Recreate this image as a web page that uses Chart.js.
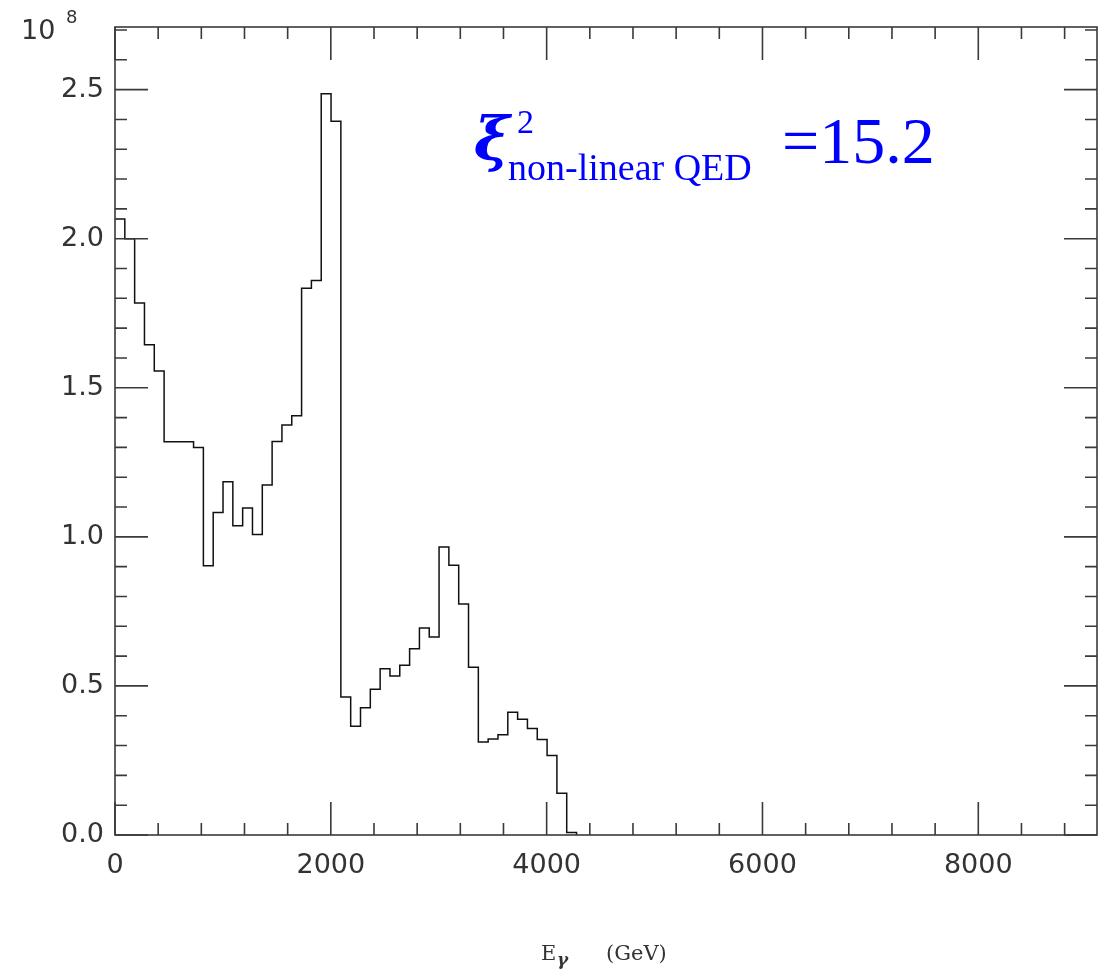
<!DOCTYPE html>
<html>
<head>
<meta charset="utf-8">
<script src="https://cdn.jsdelivr.net/npm/chart.js@4.4.1/dist/chart.umd.min.js"></script>
<style>
  html, body { margin: 0; padding: 0; background: #fff; }
</style>
</head>
<body>
<canvas id="spectrum" width="1102" height="973"></canvas>
<script>
// photon energy spectrum, bins of 91 GeV starting at 0
var binWidth = 91;
var xRange = [0, 9100];
var yRange = [0, 2.71];
var xTicks = [0, 2000, 4000, 6000, 8000];
var yTicks = [0.0, 0.5, 1.0, 1.5, 2.0, 2.5];
// entries per bin in units of 10^8, bins after the last one are empty
var counts = [2.066, 2.000, 1.784, 1.644, 1.556, 1.319, 1.319, 1.319, 1.300, 0.903,
    1.082, 1.185, 1.037, 1.097, 1.008, 1.174, 1.320, 1.375, 1.406, 1.834,
    1.860, 2.486, 2.394, 0.463, 0.365, 0.427, 0.489, 0.558, 0.533, 0.569,
    0.625, 0.694, 0.664, 0.966, 0.905, 0.775, 0.563, 0.312, 0.322, 0.336,
    0.412, 0.388, 0.357, 0.320, 0.267, 0.140, 0.008];

var labelColor = "#333";
var frameColor = "#3a3a3a";

// step points: left edge of every bin, then close at zero
var points = counts.map(function (c, i) {
    return { x: i * binWidth, y: c };
});
points.push({ x: counts.length * binWidth, y: 0 });

// frame with inward ticks on all four sides + the extra texts
var frameTicks = {
    id: "frameTicks",
    afterDraw: function (chart) {
        var ctx = chart.ctx, a = chart.chartArea;
        var xs = chart.scales.x, ys = chart.scales.y;
        var bigTick = 33, smallTick = 12;
        ctx.save();
        ctx.strokeStyle = frameColor;
        ctx.lineWidth = 1.6;
        ctx.strokeRect(a.left, a.top, a.right - a.left, a.bottom - a.top);
        ctx.beginPath();
        // x: minor every 400, major every 2000
        for (var k = 0; k * 400 <= xRange[1]; k++) {
            var px = xs.getPixelForValue(k * 400);
            var len = (k % 5 === 0) ? bigTick : smallTick;
            ctx.moveTo(px, a.bottom); ctx.lineTo(px, a.bottom - len);
            ctx.moveTo(px, a.top); ctx.lineTo(px, a.top + len);
        }
        // y: minor every 0.1, major every 0.5
        for (var j = 0; j / 10 <= yRange[1]; j++) {
            var py = ys.getPixelForValue(j / 10);
            var l2 = (j % 5 === 0) ? bigTick : smallTick;
            ctx.moveTo(a.left, py); ctx.lineTo(a.left + l2, py);
            ctx.moveTo(a.right, py); ctx.lineTo(a.right - l2, py);
        }
        ctx.stroke();

        // exponent of the y axis
        ctx.fillStyle = labelColor;
        ctx.textBaseline = "alphabetic";
        ctx.textAlign = "left";
        ctx.font = "27px 'DejaVu Sans'";
        ctx.fillText("10", 21, 39);
        ctx.font = "18px 'DejaVu Sans'";
        ctx.fillText("8", 66, 23);

        // x axis title
        ctx.font = "21px 'DejaVu Serif'";
        ctx.fillText("E", 541, 960);
        ctx.font = "bold italic 17px 'DejaVu Serif'";
        ctx.fillText("\u03b3", 557, 965);
        ctx.font = "21px 'DejaVu Serif'";
        ctx.fillText("(GeV)", 606, 960);

        // annotation
        ctx.fillStyle = "#0000ff";
        ctx.font = "bold italic 60px 'DejaVu Serif'";
        ctx.fillText("\u03be", 474, 160);
        ctx.font = "34px 'Liberation Serif'";
        ctx.fillText("2", 517, 133);
        ctx.font = "38px 'Liberation Serif'";
        ctx.fillText("non-linear QED", 508, 180);
        ctx.font = "66px 'Liberation Serif'";
        ctx.fillText("=15.2", 782, 163);
        ctx.restore();
    }
};

var tickFont = { family: "DejaVu Sans", size: 27 };

new Chart(document.getElementById("spectrum"), {
    type: "line",
    data: {
        datasets: [{
            data: points,
            stepped: true,
            borderColor: "#111",
            borderWidth: 1.5,
            pointRadius: 0,
            fill: false
        }]
    },
    options: {
        responsive: false,
        animation: false,
        layout: { padding: { left: 0, right: 5, top: 27, bottom: 98 } },
        plugins: { legend: { display: false }, tooltip: { enabled: false } },
        scales: {
            x: {
                type: "linear",
                min: xRange[0],
                max: xRange[1],
                grid: { display: false },
                border: { display: false },
                afterBuildTicks: function (scale) {
                    scale.ticks = xTicks.map(function (v) { return { value: v }; });
                },
                afterFit: function (scale) { scale.height = 40; },
                ticks: {
                    color: labelColor,
                    font: tickFont,
                    padding: 7,
                    maxRotation: 0,
                    callback: function (v) { return String(v); }
                }
            },
            y: {
                min: yRange[0],
                max: yRange[1],
                grid: { display: false },
                border: { display: false },
                afterBuildTicks: function (scale) {
                    scale.ticks = yTicks.map(function (v) { return { value: v }; });
                },
                afterFit: function (scale) { scale.width = 115; },
                ticks: {
                    color: labelColor,
                    font: tickFont,
                    padding: 3,
                    callback: function (v) { return v.toFixed(1); }
                }
            }
        }
    },
    plugins: [frameTicks]
});
</script>
</body>
</html>
